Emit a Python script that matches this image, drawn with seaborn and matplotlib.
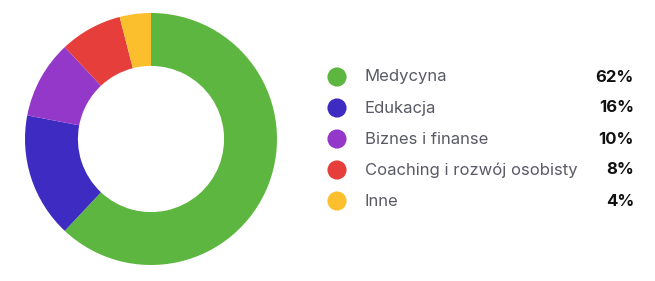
import matplotlib
matplotlib.use("Agg")
import matplotlib.pyplot as plt
import seaborn as sns
import pandas as pd

categories = ["Medycyna", "Edukacja", "Biznes i finanse", "Coaching i rozwój osobisty", "Inne"]
values = [62, 16, 10, 8, 4]
pct_labels = ["62%", "16%", "10%", "8%", "4%"]
colors = ["#5DB63F", "#3E2BC2", "#9338C9", "#E63E3A", "#FBBF2D"]

sns.set_theme(style="white")
plt.rcParams["font.family"] = ["Inter", "DejaVu Sans"]

W, H = 655, 281
fig = plt.figure(figsize=(W / 100, H / 100), dpi=100)
fig.patch.set_facecolor("white")

# Donut
cx, cy, r = 151, 139, 126
ax_pie = fig.add_axes([(cx - r) / W, (H - cy - r) / H, 2 * r / W, 2 * r / H])
ax_pie.pie(values, colors=colors, startangle=90, counterclock=False,
           radius=1, wedgeprops=dict(width=0.42, linewidth=0))
ax_pie.set_xlim(-1, 1)
ax_pie.set_ylim(-1, 1)
ax_pie.set_axis_off()

# Legend
ax_leg = fig.add_axes([0, 0, 1, 1])
ax_leg.set_xlim(0, W)
ax_leg.set_ylim(H, 0)
ax_leg.set_axis_off()
y0, dy = 77, 31
df = pd.DataFrame({"cat": categories,
                   "x": [337] * len(categories),
                   "y": [y0 + dy * i for i in range(len(categories))]})
sns.scatterplot(data=df, x="x", y="y", hue="cat", palette=colors, s=190,
                linewidth=0, legend=False, ax=ax_leg)
for i, (c, p) in enumerate(zip(categories, pct_labels)):
    y = y0 + dy * i
    ax_leg.text(365, y, c, fontsize=12, color="#5a5a66", va="center", ha="left")
    ax_leg.text(634, y, p, fontsize=12, color="#111111", fontweight="bold",
                va="center", ha="right")

fig.savefig("out.png", dpi=100, facecolor="white")
